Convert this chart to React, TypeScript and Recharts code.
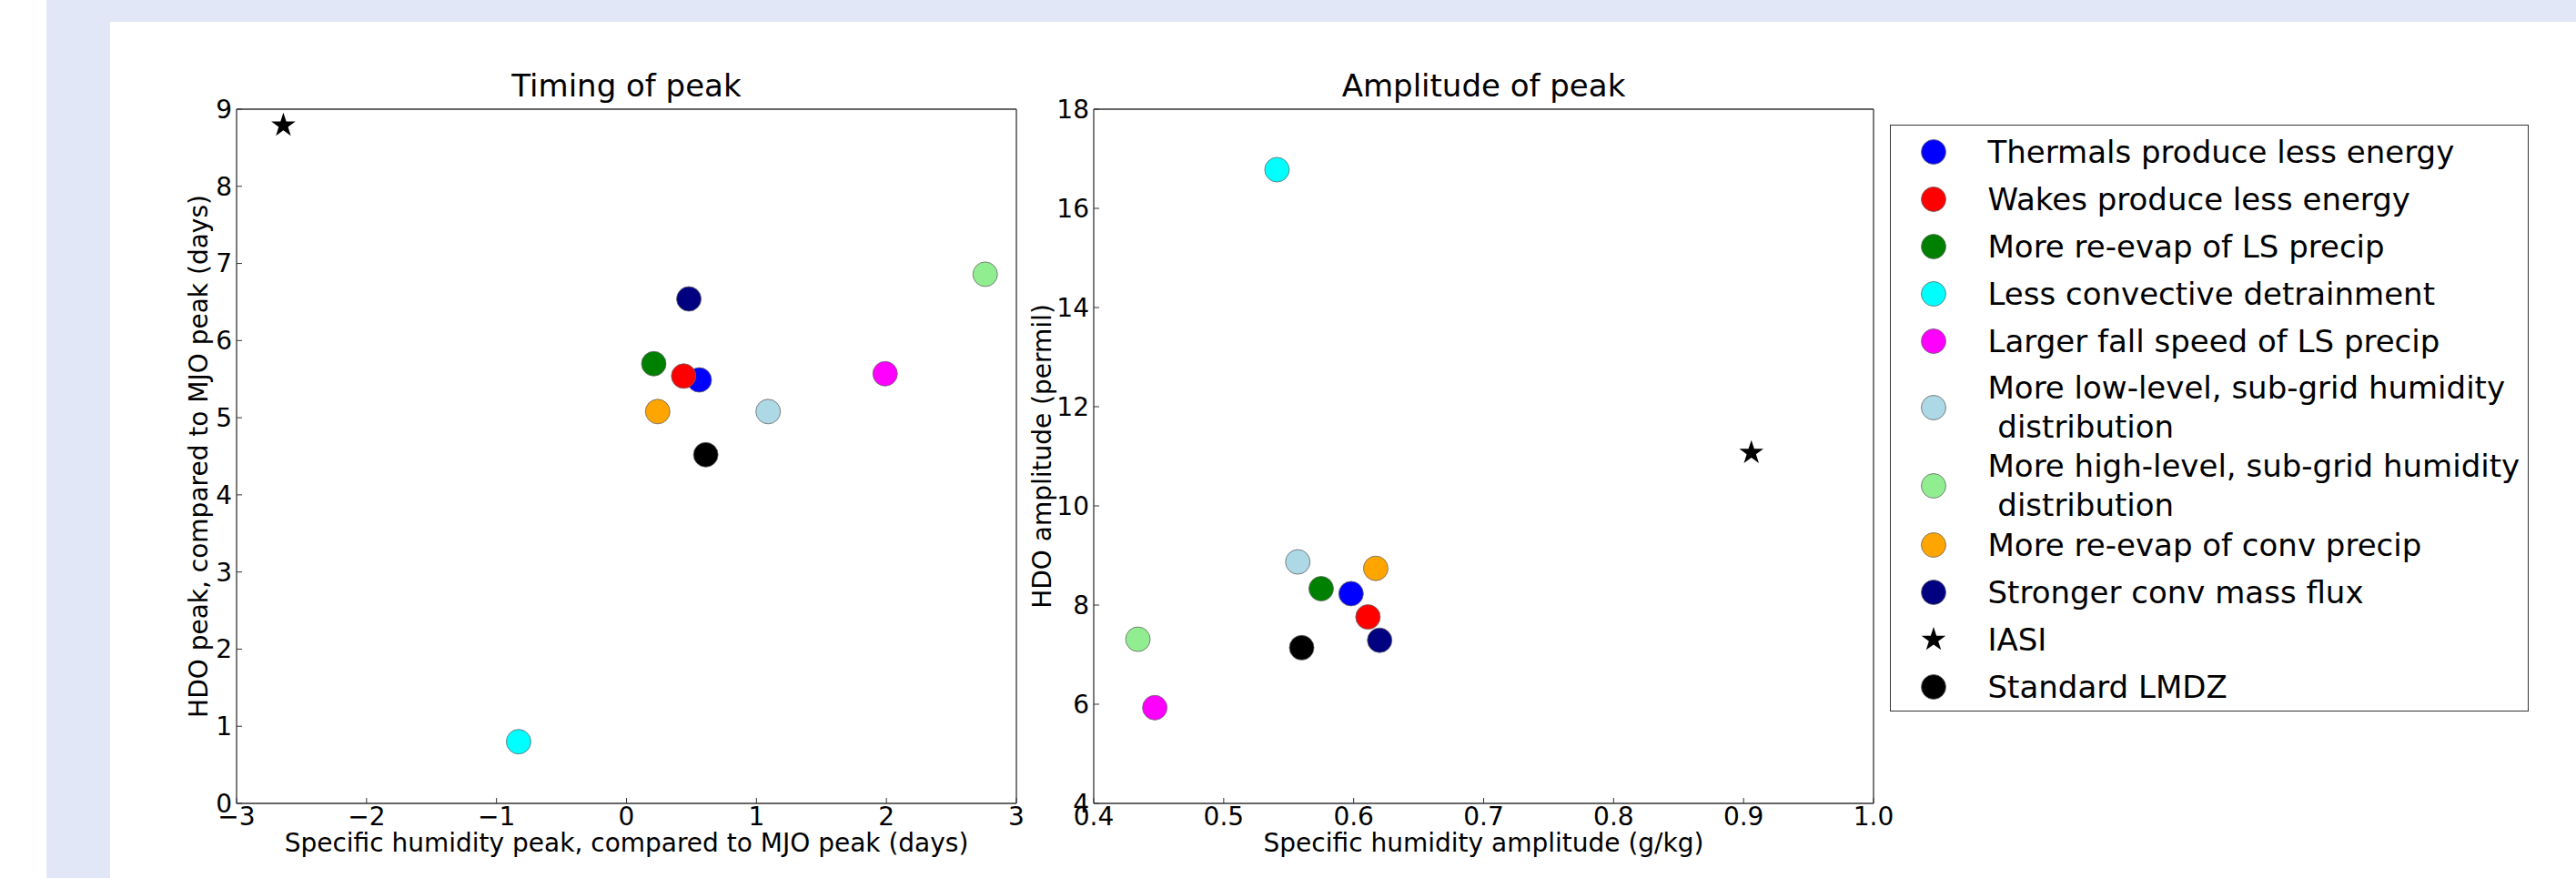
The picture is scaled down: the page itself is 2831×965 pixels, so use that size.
import React from 'react';
import { ScatterChart, Scatter, XAxis, YAxis } from 'recharts';

// legend order = draw order
const seriesNames = [
  'Thermals produce less energy',
  'Wakes produce less energy',
  'More re-evap of LS precip',
  'Less convective detrainment',
  'Larger fall speed of LS precip',
  'More low-level, sub-grid humidity\n distribution',
  'More high-level, sub-grid humidity\n distribution',
  'More re-evap of conv precip',
  'Stronger conv mass flux',
  'IASI',
  'Standard LMDZ',
];
const seriesColors = [
  '#0000ff', '#ff0000', '#008000', '#00ffff', '#ff00ff',
  '#add8e6', '#90ee90', '#ffa500', '#000080', '#000000', '#000000',
];
const seriesMarkers = [
  'circle', 'circle', 'circle', 'circle', 'circle',
  'circle', 'circle', 'circle', 'circle', 'star', 'circle',
];

// Timing of peak (days)
const timingX = [0.56, 0.44, 0.21, -0.83, 1.99, 1.09, 2.76, 0.24, 0.48, -2.64, 0.61];
const timingY = [5.49, 5.54, 5.70, 0.80, 5.57, 5.08, 6.86, 5.08, 6.54, 8.79, 4.52];

// Amplitude of peak
const ampX = [0.598, 0.611, 0.575, 0.541, 0.447, 0.557, 0.434, 0.617, 0.620, 0.906, 0.560];
const ampY = [8.23, 7.76, 8.33, 16.78, 5.93, 8.87, 7.31, 8.74, 7.29, 11.07, 7.14];

const timingXTicks = [-3, -2, -1, 0, 1, 2, 3];
const timingYTicks = [0, 1, 2, 3, 4, 5, 6, 7, 8, 9];
const ampXTicks = [0.4, 0.5, 0.6, 0.7, 0.8, 0.9, 1.0];
const ampYTicks = [4, 6, 8, 10, 12, 14, 16, 18];

const W = 2831;
const H = 965;
const PLOT_TOP = 120;
const PLOT_BOTTOM = 883;
const FONT = '"DejaVu Sans", Verdana, sans-serif';
const AXIS = '#333';
const R = 13.5;

const fmtInt = (v: number) => (v < 0 ? '\u2212' + Math.abs(v) : String(v));
const fmtDec = (v: number) => v.toFixed(1);

function starPath(cx: number, cy: number, ro: number, ri: number) {
  let d = '';
  for (let i = 0; i < 10; i++) {
    const r = i % 2 === 0 ? ro : ri;
    const a = -Math.PI / 2 + (i * Math.PI) / 5;
    d += (i === 0 ? 'M' : 'L') + (cx + r * Math.cos(a)).toFixed(2) + ',' + (cy + r * Math.sin(a)).toFixed(2);
  }
  return d + 'Z';
}

const MarkerGlyph = ({ cx, cy, color, marker }: any) =>
  marker === 'star' ? (
    <path d={starPath(cx, cy, 14, 5.4)} fill="#000" />
  ) : (
    <circle cx={cx} cy={cy} r={R} fill={color} stroke="#666" strokeWidth={0.8} />
  );

interface PanelProps {
  left: number;
  right: number;
  title: string;
  xLabel: string;
  yLabel: string;
  yLabelGap: number;
  xs: number[];
  ys: number[];
  xDomain: [number, number];
  yDomain: [number, number];
  xTicks: number[];
  yTicks: number[];
  xFmt: (v: number) => string;
}

const Panel = (p: PanelProps) => {
  const tickStyle = { fill: '#000', fontSize: 28 };
  const line = { stroke: AXIS, strokeWidth: 1.3 };
  return (
    <div style={{ position: 'absolute', left: 0, top: 0 }}>
      <ScatterChart
        width={W}
        height={H}
        margin={{ top: PLOT_TOP - 1, left: p.left - 1, right: W - p.right - 1, bottom: H - PLOT_BOTTOM - 1 }}
      >
        <XAxis
          type="number"
          dataKey="x"
          domain={p.xDomain}
          ticks={p.xTicks}
          tickFormatter={p.xFmt}
          allowDataOverflow
          height={1}
          tick={tickStyle}
          tickSize={-6}
          tickMargin={10}
          axisLine={line}
          tickLine={{ stroke: AXIS }}
          label={{
            content: ({ viewBox }: any) => (
              <text
                x={viewBox.x + viewBox.width / 2}
                y={viewBox.y + 53}
                textAnchor="middle"
                fontSize={28}
                fill="#000"
              >
                {p.xLabel}
              </text>
            ),
          }}
        />
        <XAxis
          xAxisId="top"
          orientation="top"
          type="number"
          domain={p.xDomain}
          ticks={p.xTicks}
          allowDataOverflow
          height={1}
          tick={false}
          tickSize={-6}
          axisLine={line}
          tickLine={{ stroke: AXIS }}
          label={{
            content: ({ viewBox }: any) => (
              <text
                x={viewBox.x + viewBox.width / 2}
                y={viewBox.y + viewBox.height - 14}
                textAnchor="middle"
                fontSize={34}
                fill="#000"
              >
                {p.title}
              </text>
            ),
          }}
        />
        <YAxis
          type="number"
          dataKey="y"
          domain={p.yDomain}
          ticks={p.yTicks}
          tickFormatter={fmtInt}
          allowDataOverflow
          width={1}
          tick={tickStyle}
          tickSize={-6}
          tickMargin={11}
          axisLine={line}
          tickLine={{ stroke: AXIS }}
          label={{
            content: ({ viewBox }: any) => {
              const x = viewBox.x + viewBox.width - p.yLabelGap;
              const y = viewBox.y + viewBox.height / 2;
              return (
                <text
                  x={x}
                  y={y}
                  transform={`rotate(-90, ${x}, ${y})`}
                  textAnchor="middle"
                  dominantBaseline="central"
                  fontSize={28}
                  fill="#000"
                >
                  {p.yLabel}
                </text>
              );
            },
          }}
        />
        <YAxis
          yAxisId="right"
          orientation="right"
          type="number"
          domain={p.yDomain}
          ticks={p.yTicks}
          allowDataOverflow
          width={1}
          tick={false}
          tickSize={-6}
          axisLine={line}
          tickLine={{ stroke: AXIS }}
        />
        {seriesNames.map((name, i) => (
          <Scatter
            key={name}
            name={name}
            data={[{ x: p.xs[i], y: p.ys[i] }]}
            isAnimationActive={false}
            shape={(s: any) => (
              <MarkerGlyph cx={s.cx} cy={s.cy} color={seriesColors[i]} marker={seriesMarkers[i]} />
            )}
          />
        ))}
      </ScatterChart>
    </div>
  );
};

const LegendBox = () => (
  <div
    style={{
      position: 'absolute',
      left: 2077,
      top: 137,
      width: 702,
      boxSizing: 'border-box',
      border: `1.5px solid ${AXIS}`,
      paddingTop: 3,
      background: '#fff',
      fontSize: 34,
      color: '#000',
    }}
  >
    {seriesNames.map((name, i) => {
      const twoLine = name.includes('\n');
      return (
        <div
          key={name}
          style={{
            display: 'flex',
            alignItems: 'center',
            height: twoLine ? 86 : 52,
            position: 'relative',
            top: twoLine ? 4 : 0,
          }}
        >
          <svg width={30} height={30} style={{ marginLeft: 31.5, flex: 'none' }}>
            <MarkerGlyph cx={15} cy={15} color={seriesColors[i]} marker={seriesMarkers[i]} />
          </svg>
          <div
            style={{
              marginLeft: 45,
              whiteSpace: 'pre',
              lineHeight: twoLine ? '43px' : '52px',
            }}
          >
            {name}
          </div>
        </div>
      );
    })}
  </div>
);

export default function App() {
  return (
    <div
      style={{
        position: 'absolute',
        left: 0,
        top: 0,
        width: W,
        height: H,
        overflow: 'hidden',
        background: '#fff',
        fontFamily: FONT,
      }}
    >
      <div style={{ position: 'absolute', left: 51, top: 0, width: W - 51, height: 24, background: '#e1e7f6' }} />
      <div style={{ position: 'absolute', left: 51, top: 0, width: 70, height: H, background: '#e1e7f6' }} />
      <Panel
        left={260}
        right={1117}
        title="Timing of peak"
        xLabel="Specific humidity peak, compared to MJO peak (days)"
        yLabel="HDO peak, compared to MJO peak (days)"
        yLabelGap={42}
        xs={timingX}
        ys={timingY}
        xDomain={[-3, 3]}
        yDomain={[0, 9]}
        xTicks={timingXTicks}
        yTicks={timingYTicks}
        xFmt={fmtInt}
      />
      <Panel
        left={1202}
        right={2059}
        title="Amplitude of peak"
        xLabel="Specific humidity amplitude (g/kg)"
        yLabel="HDO amplitude (permil)"
        yLabelGap={57}
        xs={ampX}
        ys={ampY}
        xDomain={[0.4, 1.0]}
        yDomain={[4, 18]}
        xTicks={ampXTicks}
        yTicks={ampYTicks}
        xFmt={fmtDec}
      />
      <LegendBox />
    </div>
  );
}
